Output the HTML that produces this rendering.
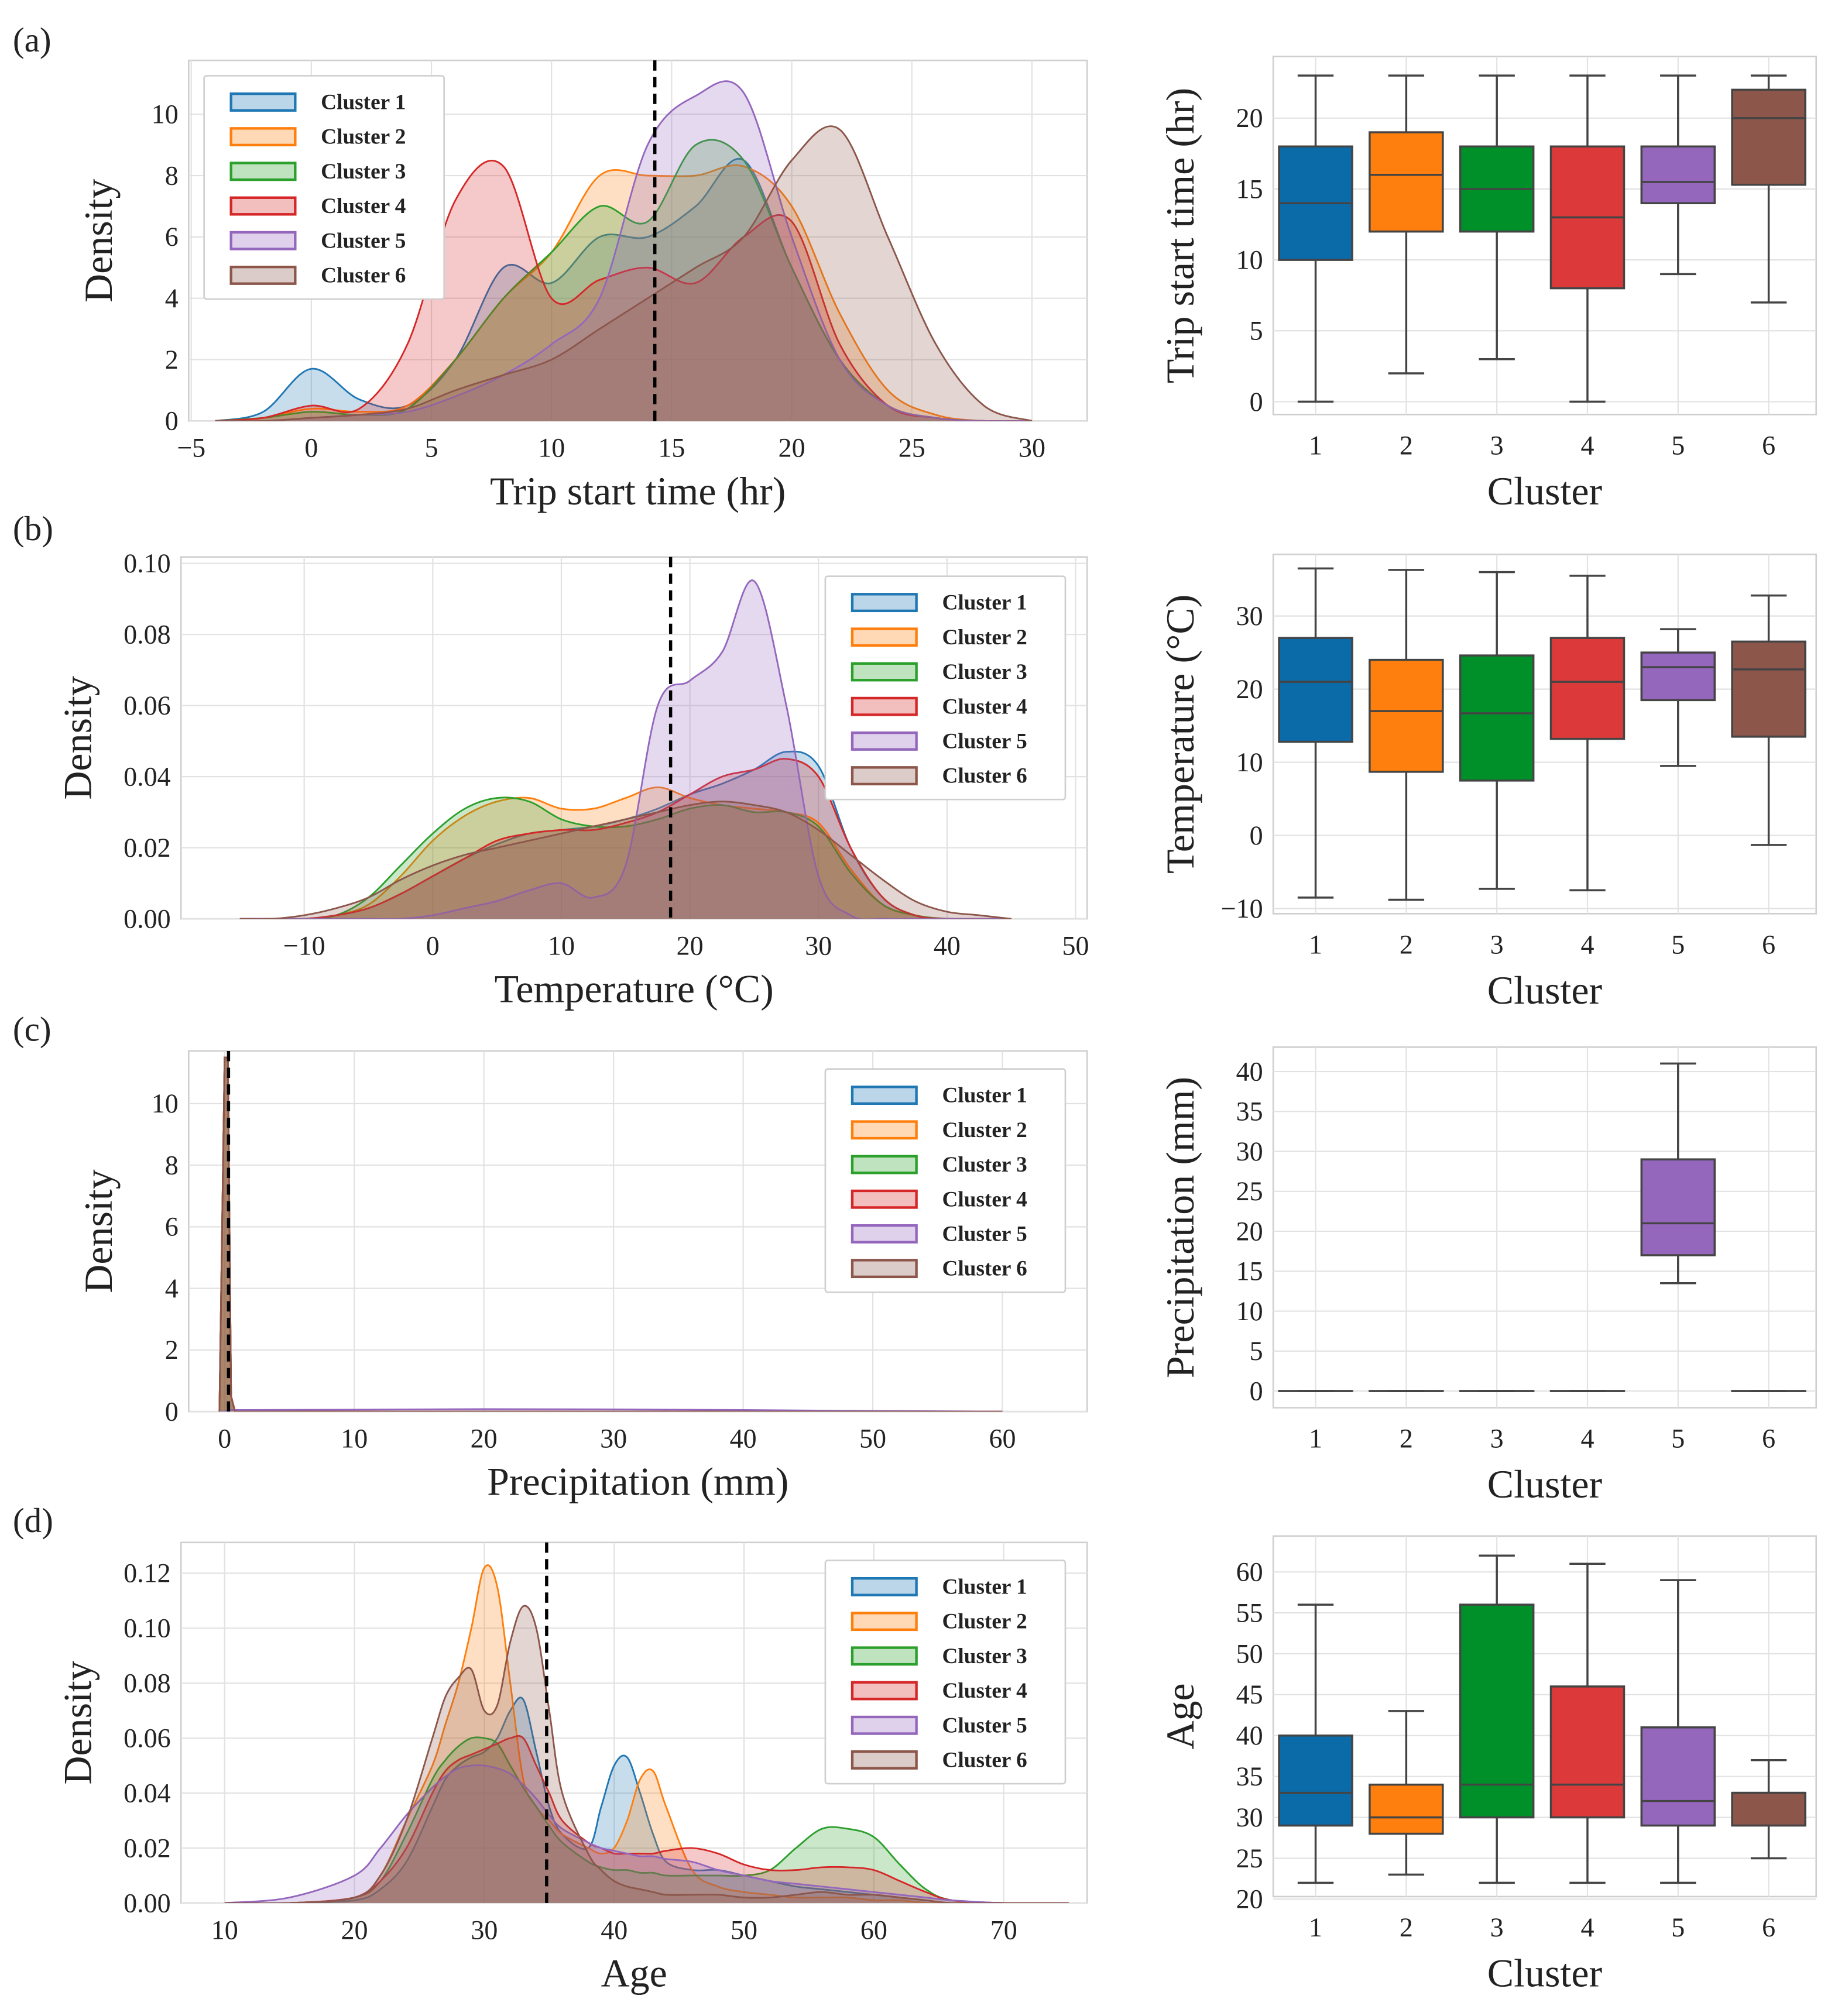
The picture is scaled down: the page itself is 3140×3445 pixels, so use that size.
<!DOCTYPE html>
<html><head><meta charset="utf-8">
<style>
html,body{margin:0;padding:0;background:#fff;}
svg{display:block;}
text{font-family:"Liberation Serif",serif;fill:#222;}
</style></head>
<body>
<svg id="fig" width="3140" height="3445" viewBox="0 0 1432 1571" xmlns="http://www.w3.org/2000/svg"></svg>
<script>
// ---------- data ----------
const clusters = ['Cluster 1','Cluster 2','Cluster 3','Cluster 4','Cluster 5','Cluster 6'];
const colors = ['#1f77b4','#ff7f0e','#2ca02c','#d62728','#9467bd','#8c564b'];
const boxColors = ['#0b6aa8','#ff7f0e','#00902a','#dc3a3a','#9467bd','#8c564b'];

const tripX = [-4,-2,0,2,4,6,8,10,12,14,16,18,20,22,24,26,28,30];
const tripC1 = [0,0.3,1.7,0.7,0.5,2,5,4.5,6,6,7,8.5,5,2,0.5,0.1,0,0];
const tripC2 = [0,0.1,0.4,0.3,0.5,2,4,5.5,8,8,8,8.3,7,3.5,1,0.2,0,0];
const tripC3 = [0,0.1,0.3,0.2,0.4,2,4,5.5,7,6.5,9,8.5,5,2,0.5,0.1,0,0];
const tripC4 = [0,0.1,0.5,0.4,2.5,7.2,8.3,4,4.6,5,4.5,6,6.5,2.5,0.5,0.1,0,0];
const tripC5 = [0,0,0.1,0.2,0.3,0.8,1.5,2.5,4,9,10.6,10.7,6,2,0.5,0.1,0,0];
const tripC6 = [0,0,0.1,0.2,0.4,1,1.5,2,3,4,5,6,8.5,9.5,6,2.5,0.5,0];
const tripMean = 14.3;

const tempX = [-15,-12.5,-10,-7.5,-5,-2.5,0,2.5,5,7.5,10,12.5,15,17.5,20,22.5,25,27.5,30,32.5,35,37.5,40,42.5,45];
const tempC1 = [0,0,0,0.001,0.003,0.007,0.012,0.017,0.021,0.024,0.025,0.026,0.028,0.031,0.035,0.038,0.042,0.047,0.043,0.02,0.006,0.001,0,0,0];
const tempC2 = [0,0,0,0.001,0.004,0.012,0.022,0.029,0.033,0.034,0.031,0.031,0.034,0.037,0.034,0.032,0.031,0.03,0.027,0.014,0.004,0.001,0,0,0];
const tempC3 = [0,0,0,0.001,0.006,0.015,0.024,0.031,0.034,0.033,0.028,0.026,0.026,0.028,0.031,0.032,0.03,0.03,0.026,0.013,0.004,0.001,0,0,0];
const tempC4 = [0,0,0,0.001,0.003,0.007,0.012,0.017,0.022,0.024,0.025,0.025,0.027,0.03,0.035,0.04,0.042,0.045,0.04,0.02,0.006,0.001,0,0,0];
const tempC5 = [0,0,0,0,0,0,0.001,0.003,0.005,0.008,0.01,0.006,0.015,0.06,0.067,0.075,0.095,0.06,0.012,0.001,0,0,0,0,0];
const tempC6 = [0,0,0.001,0.003,0.006,0.011,0.015,0.018,0.02,0.022,0.024,0.026,0.028,0.03,0.032,0.033,0.032,0.03,0.025,0.018,0.011,0.005,0.002,0.001,0];
const tempMean = 18.5;

const precX = [-0.4,0,0.25,0.5,0.8,1.5,10,20,30,40,50,60];
const precC1 = [0,11.5,11.5,0.5,0,0,0,0,0,0,0,0];
const precC2 = [0,11.5,11.5,0.5,0,0,0,0,0,0,0,0];
const precC3 = [0,11.5,11.5,0.5,0,0,0,0,0,0,0,0];
const precC4 = [0,11.5,11.5,0.5,0,0,0,0,0,0,0,0];
const precC5 = [0,0,0.05,0.05,0.05,0.05,0.06,0.08,0.07,0.05,0.02,0];
const precC6 = [0,11.5,11.5,0.5,0,0,0,0,0,0,0,0];
const precMean = 0.3;

const ageX = [10,15,20,22,24,26,27,28,29,30,31,32,33,34,35,36,38,39,40,41,42,43,44,46,48,50,52,54,56,58,60,62,64,66,70,75];
const ageC1 = [0,0,0.001,0.005,0.015,0.035,0.045,0.05,0.053,0.055,0.06,0.07,0.074,0.055,0.035,0.025,0.02,0.035,0.05,0.053,0.04,0.025,0.015,0.012,0.012,0.01,0.008,0.006,0.005,0.004,0.003,0.002,0.001,0,0,0];
const ageC2 = [0,0,0.002,0.01,0.03,0.05,0.065,0.08,0.1,0.122,0.115,0.08,0.045,0.035,0.03,0.025,0.02,0.018,0.02,0.03,0.045,0.048,0.035,0.012,0.006,0.004,0.003,0.002,0.002,0.002,0.001,0.001,0,0,0,0];
const ageC3 = [0,0,0.002,0.008,0.025,0.045,0.052,0.057,0.06,0.06,0.058,0.05,0.042,0.035,0.028,0.022,0.015,0.013,0.012,0.012,0.011,0.011,0.01,0.01,0.01,0.01,0.012,0.02,0.027,0.027,0.024,0.014,0.005,0.001,0,0];
const ageC4 = [0,0,0.002,0.008,0.02,0.04,0.048,0.052,0.054,0.056,0.058,0.06,0.06,0.05,0.04,0.03,0.022,0.02,0.018,0.018,0.018,0.018,0.019,0.02,0.018,0.014,0.012,0.012,0.013,0.013,0.012,0.008,0.004,0.001,0,0];
const ageC5 = [0,0.002,0.01,0.02,0.032,0.042,0.046,0.049,0.05,0.05,0.049,0.047,0.043,0.038,0.032,0.027,0.022,0.02,0.019,0.018,0.017,0.017,0.016,0.015,0.012,0.01,0.008,0.007,0.006,0.005,0.004,0.003,0.002,0.001,0,0];
const ageC6 = [0,0,0.002,0.01,0.03,0.06,0.075,0.082,0.085,0.07,0.072,0.095,0.108,0.1,0.07,0.04,0.018,0.012,0.008,0.006,0.005,0.004,0.003,0.003,0.003,0.002,0.002,0.003,0.004,0.003,0.003,0.002,0.001,0,0,0];
const ageMean = 34.8;

// box stats: [whiskerLow, q1, median, q3, whiskerHigh]
const boxTrip = [[0,10,14,18,23],[2,12,16,19,23],[3,12,15,18,23],[0,8,13,18,23],[9,14,15.5,18,23],[7,15.3,20,22,23]];
const boxTemp = [[-8.5,12.8,21,27,36.5],[-8.8,8.7,17,24,36.3],[-7.3,7.5,16.7,24.6,36],[-7.5,13.2,21,27,35.5],[9.5,18.5,23,25,28.2],[-1.3,13.5,22.7,26.5,32.8]];
const boxPrec = [[0,0,0,0,0],[0,0,0,0,0],[0,0,0,0,0],[0,0,0,0,0],[13.5,17,21,29,41],[0,0,0,0,0]];
const boxAge = [[22,29,33,40,56],[23,28,30,34,43],[22,30,34,56,62],[22,30,34,46,61],[22,29,32,41,59],[25,29,33,33,37]];

const tripXTicks=[-5,0,5,10,15,20,25,30], tripYTicks=[0,2,4,6,8,10];
const tempXTicks=[-10,0,10,20,30,40,50], tempYTicks=[0,0.02,0.04,0.06,0.08,0.10];
const precXTicks=[0,10,20,30,40,50,60], precYTicks=[0,2,4,6,8,10];
const ageXTicks=[10,20,30,40,50,60,70], ageYTicks=[0,0.02,0.04,0.06,0.08,0.10,0.12];
const boxTripTicks=[0,5,10,15,20], boxTempTicks=[-10,0,10,20,30];
const boxPrecTicks=[0,5,10,15,20,25,30,35,40], boxAgeTicks=[20,25,30,35,40,45,50,55,60];
const catLabels=['1','2','3','4','5','6'];

// ---------- helpers ----------
const NS='http://www.w3.org/2000/svg';
const svg=document.getElementById('fig');
function mk(tag,attrs,parent,name,inter){
  const e=document.createElementNS(NS,tag);
  for(const k in attrs) e.setAttribute(k,attrs[k]);
  
  
  (parent||svg).appendChild(e); return e;
}
function lin(v1,p1,v2,p2){return v=>p1+(v-v1)*(p2-p1)/(v2-v1);}
function smoothPath(pts){
  let d='M'+pts[0][0]+','+pts[0][1];
  for(let i=0;i<pts.length-1;i++){
    const p0=pts[Math.max(0,i-1)],p1=pts[i],p2=pts[i+1],p3=pts[Math.min(pts.length-1,i+2)];
    const c1x=p1[0]+(p2[0]-p0[0])/6,c1y=p1[1]+(p2[1]-p0[1])/6;
    const c2x=p2[0]-(p3[0]-p1[0])/6,c2y=p2[1]-(p3[1]-p1[1])/6;
    d+=` C${c1x},${c1y} ${c2x},${c2y} ${p2[0]},${p2[1]}`;
  }
  return d;
}
function fmt(v,dec){return (v<0?'\u2212':'')+Math.abs(v).toFixed(dec);}

function kdePanel(o){
  const g=mk('g',{},svg,o.name,false);
  const sx=lin(...o.xa), sy=lin(...o.ya);
  mk('rect',{x:o.L,y:o.T,width:o.R-o.L,height:o.B-o.T,fill:'#fff',stroke:'#cfcfcf','stroke-width':1.2},g,'plot-area',false);
  o.xt.forEach(t=>{const x=sx(t);
    mk('line',{x1:x,x2:x,y1:o.T,y2:o.B,stroke:'#e2e2e2','stroke-width':1},g,'x-gridline',false);
    const tx=mk('text',{x:x,y:o.B+28,'font-size':21,'text-anchor':'middle'},g,'x-tick-label',false);tx.textContent=fmt(t,0);});
  o.yt.forEach(t=>{const y=sy(t);
    mk('line',{x1:o.L,x2:o.R,y1:y,y2:y,stroke:'#e2e2e2','stroke-width':1},g,'y-gridline',false);
    const tx=mk('text',{x:o.L-8,y:y+7,'font-size':21,'text-anchor':'end'},g,'y-tick-label',false);tx.textContent=fmt(t,o.ydec);});
  const cp=mk('clipPath',{id:'cp'+o.name},svg,'clip',false);
  mk('rect',{x:o.L,y:o.T,width:o.R-o.L,height:o.B-o.T},cp,'clip-rect',false);
  const sg=mk('g',{'clip-path':'url(#cp'+o.name+')'},g,'series-group',false);
  o.series.forEach((s,i)=>{
    const pts=o.xs.map((x,j)=>[sx(x),sy(s[j])]);
    const d=o.linear? 'M'+pts.map(p=>p.join(',')).join(' L') : smoothPath(pts);
    const area=d+` L${pts[pts.length-1][0]},${sy(0)} L${pts[0][0]},${sy(0)} Z`;
    mk('path',{d:area,fill:colors[i],'fill-opacity':0.25,stroke:'none'},sg,'density-fill-cluster-'+(i+1),false);
    mk('path',{d:d,fill:'none',stroke:colors[i],'stroke-width':1.3},sg,'density-line-cluster-'+(i+1),false);
  });
  const mx=sx(o.mean);
  mk('line',{x1:mx,x2:mx,y1:o.T,y2:o.B,stroke:'#000','stroke-width':2.5,'stroke-dasharray':'8,5'},g,'mean-line',false);
  const xl=mk('text',{x:(o.L+o.R)/2,y:o.B+65,'font-size':31,'text-anchor':'middle'},g,'x-axis-title',false);xl.textContent=o.xlabel;
  const yl=mk('text',{x:0,y:0,'font-size':31,'text-anchor':'middle',transform:`translate(${o.L-70+ (o.ydec?0:10)},${(o.T+o.B)/2}) rotate(-90)`},g,'y-axis-title',false);yl.textContent='Density';
  const lg=mk('g',{},g,'legend',false);
  mk('rect',{x:o.lx,y:o.ly,width:187,height:174,fill:'#fff',stroke:'#cfcfcf','stroke-width':1.2,rx:2},lg,'legend-frame',false);
  clusters.forEach((c,i)=>{const y=o.ly+20+i*27;
    const e=mk('g',{},lg,'legend-entry',false);
    mk('rect',{x:o.lx+21,y:y-6,width:50,height:13,fill:colors[i],'fill-opacity':0.3,stroke:colors[i],'stroke-width':2},e,'legend-swatch',false);
    const t=mk('text',{x:o.lx+91,y:y+6,'font-size':17,'font-weight':'bold'},e,'legend-label',false);t.textContent=c;});
}

function boxPanel(o){
  const g=mk('g',{},svg,o.name,false);
  const sx=lin(1,1025,6,1378), sy=lin(...o.ya);
  const L=992,R=1415;
  mk('rect',{x:L,y:o.T,width:R-L,height:o.B-o.T,fill:'#fff',stroke:'#cfcfcf','stroke-width':1.2},g,'plot-area',false);
  o.yt.forEach(t=>{const y=sy(t);
    mk('line',{x1:L,x2:R,y1:y,y2:y,stroke:'#e2e2e2','stroke-width':1},g,'y-gridline',false);
    const tx=mk('text',{x:L-8,y:y+7,'font-size':21,'text-anchor':'end'},g,'y-tick-label',false);tx.textContent=fmt(t,0);});
  catLabels.forEach((c,i)=>{const x=sx(i+1);
    mk('line',{x1:x,x2:x,y1:o.T,y2:o.B,stroke:'#e2e2e2','stroke-width':1},g,'x-gridline',false);
    const tx=mk('text',{x:x,y:o.B+31,'font-size':21,'text-anchor':'middle'},g,'x-tick-label',false);tx.textContent=c;});
  o.data.forEach((b,i)=>{const x=sx(i+1),w=57,cw=28;
    const bg=mk('g',{},g,'box-cluster-'+(i+1),false);
    const ln={stroke:'#444','stroke-width':1.6};
    mk('line',Object.assign({x1:x,x2:x,y1:sy(b[0]),y2:sy(b[1])},ln),bg,'lower-whisker',false);
    mk('line',Object.assign({x1:x,x2:x,y1:sy(b[3]),y2:sy(b[4])},ln),bg,'upper-whisker',false);
    mk('line',Object.assign({x1:x-cw/2,x2:x+cw/2,y1:sy(b[0]),y2:sy(b[0])},ln),bg,'lower-cap',false);
    mk('line',Object.assign({x1:x-cw/2,x2:x+cw/2,y1:sy(b[4]),y2:sy(b[4])},ln),bg,'upper-cap',false);
    mk('rect',{x:x-w/2,y:sy(b[3]),width:w,height:Math.max(0.01,sy(b[1])-sy(b[3])),fill:boxColors[i],stroke:'#444','stroke-width':1.6},bg,'box',false);
    mk('line',Object.assign({x1:x-w/2,x2:x+w/2,y1:sy(b[2]),y2:sy(b[2])},ln),bg,'median-line',false);
  });
  const xl=mk('text',{x:(L+R)/2,y:o.B+70,'font-size':31,'text-anchor':'middle'},g,'x-axis-title',false);xl.textContent='Cluster';
  const yl=mk('text',{x:0,y:0,'font-size':31,'text-anchor':'middle',transform:`translate(930,${(o.T+o.B)/2}) rotate(-90)`},g,'y-axis-title',false);yl.textContent=o.ylabel;
}

// ---------- panels ----------
kdePanel({name:'trip-kde',L:147,R:847,T:47,B:328,xa:[-5,149,30,804],ya:[0,328,10,89],xt:tripXTicks,yt:tripYTicks,ydec:0,
  xs:tripX,series:[tripC1,tripC2,tripC3,tripC4,tripC5,tripC6],mean:tripMean,xlabel:'Trip start time (hr)',lx:159,ly:59});
kdePanel({name:'temp-kde',L:141,R:847,T:434,B:716,xa:[-10,237,50,838],ya:[0,716,0.1,439],xt:tempXTicks,yt:tempYTicks,ydec:2,
  xs:tempX,series:[tempC1,tempC2,tempC3,tempC4,tempC5,tempC6],mean:tempMean,xlabel:'Temperature (\u00B0C)',lx:643,ly:449});
kdePanel({name:'prec-kde',L:147,R:847,T:819,B:1100,xa:[0,175,60,781],ya:[0,1100,10,860],xt:precXTicks,yt:precYTicks,ydec:0,linear:true,
  xs:precX,series:[precC1,precC2,precC3,precC4,precC5,precC6],mean:precMean,xlabel:'Precipitation (mm)',lx:643,ly:833});
kdePanel({name:'age-kde',L:141,R:847,T:1202,B:1483,xa:[10,175,70,782],ya:[0,1483,0.12,1226],xt:ageXTicks,yt:ageYTicks,ydec:2,
  xs:ageX,series:[ageC1,ageC2,ageC3,ageC4,ageC5,ageC6],mean:ageMean,xlabel:'Age',lx:643,ly:1216});

boxPanel({name:'trip-box',T:44,B:323,ya:[0,313,20,92],yt:boxTripTicks,data:boxTrip,ylabel:'Trip start time (hr)'});
boxPanel({name:'temp-box',T:432,B:712,ya:[0,651,30,480],yt:boxTempTicks,data:boxTemp,ylabel:'Temperature (\u00B0C)'});
boxPanel({name:'prec-box',T:816,B:1097,ya:[0,1084,40,835],yt:boxPrecTicks,data:boxPrec,ylabel:'Precipitation (mm)'});
boxPanel({name:'age-box',T:1197,B:1478,ya:[20,1480,60,1225],yt:boxAgeTicks,data:boxAge,ylabel:'Age'});

[['(a)',32],['(b)',413],['(c)',803],['(d)',1186]].forEach(p=>{
  const t=mk('text',{x:10,y:p[1]+8,'font-size':27},svg,'panel-label',false);t.textContent=p[0];});
</script>
</body></html>
